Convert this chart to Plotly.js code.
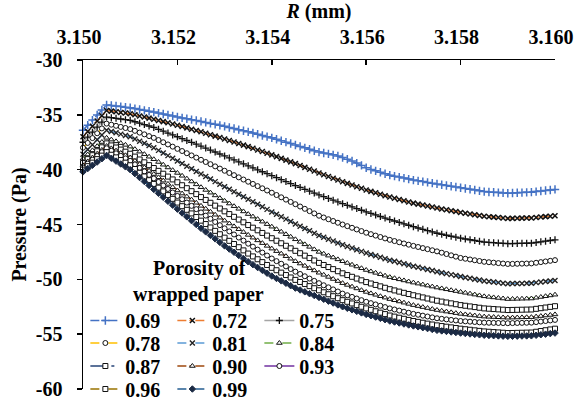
<!DOCTYPE html>
<html><head><meta charset="utf-8">
<script src="https://cdn.plot.ly/plotly-3.0.1.min.js"></script>
<style>html,body{margin:0;padding:0;background:#fff}#chart{width:576px;height:401px}</style>
</head><body><div id="chart"></div>
<script>
const R = [3.1500,3.1501,3.1502,3.1503,3.1504,3.1505,3.1506,3.1507,3.1508,3.1509,
3.1510,3.1511,3.1512,3.1513,3.1514,3.1515,3.1516,3.1517,3.1518,3.1519,
3.1520,3.1521,3.1522,3.1523,3.1524,3.1525,3.1526,3.1527,3.1528,3.1529,
3.1530,3.1531,3.1532,3.1533,3.1534,3.1535,3.1536,3.1537,3.1538,3.1539,
3.1540,3.1541,3.1542,3.1543,3.1544,3.1545,3.1546,3.1547,3.1548,3.1549,
3.1550,3.1551,3.1552,3.1553,3.1554,3.1555,3.1556,3.1557,3.1558,3.1559,
3.1560,3.1561,3.1562,3.1563,3.1564,3.1565,3.1566,3.1567,3.1568,3.1569,
3.1570,3.1571,3.1572,3.1573,3.1574,3.1575,3.1576,3.1577,3.1578,3.1579,
3.1580,3.1581,3.1582,3.1583,3.1584,3.1585,3.1586,3.1587,3.1588,3.1589,
3.1590,3.1591,3.1592,3.1593,3.1594,3.1595,3.1596,3.1597,3.1598,3.1599,
3.1600];

const p069 = [-36.4,-35.94,-35.48,-35.02,-34.56,-34.1,
-34.15,-34.2,-34.25,-34.3,-34.35,
-34.43,-34.51,-34.59,-34.67,-34.75,
-34.84,-34.93,-35.02,-35.11,-35.2,
-35.28,-35.36,-35.44,-35.52,-35.6,
-35.69,-35.78,-35.87,-35.96,-36.05,
-36.15,-36.25,-36.35,-36.45,-36.55,
-36.66,-36.77,-36.88,-36.99,-37.1,
-37.23,-37.36,-37.49,-37.62,-37.75,
-37.88,-38.01,-38.14,-38.27,-38.4,
-38.48,-38.56,-38.65,-38.76,-38.89,
-39.04,-39.21,-39.4,-39.61,-39.83,
-39.98,-40.11,-40.24,-40.37,-40.5,
-40.59,-40.68,-40.77,-40.86,-40.95,
-41.02,-41.09,-41.16,-41.23,-41.3,
-41.37,-41.44,-41.51,-41.58,-41.65,
-41.72,-41.79,-41.86,-41.93,-42.0,
-42.03,-42.06,-42.09,-42.12,-42.15,
-42.13,-42.11,-42.09,-42.07,-42.05,
-42.0,-41.95,-41.9,-41.85,-41.8];

const p072 = [-37.0,-36.52,-36.04,-35.56,-35.08,-34.6,
-34.66,-34.72,-34.78,-34.84,-34.9,
-35.0,-35.1,-35.2,-35.3,-35.4,
-35.51,-35.62,-35.73,-35.84,-35.95,
-36.07,-36.19,-36.31,-36.43,-36.55,
-36.68,-36.81,-36.94,-37.07,-37.2,
-37.34,-37.48,-37.62,-37.76,-37.9,
-38.05,-38.2,-38.35,-38.5,-38.65,
-38.81,-38.97,-39.13,-39.29,-39.45,
-39.62,-39.79,-39.96,-40.13,-40.3,
-40.46,-40.62,-40.78,-40.94,-41.1,
-41.25,-41.4,-41.55,-41.7,-41.85,
-41.98,-42.11,-42.24,-42.37,-42.5,
-42.61,-42.72,-42.83,-42.94,-43.05,
-43.14,-43.23,-43.32,-43.41,-43.5,
-43.58,-43.66,-43.74,-43.82,-43.9,
-43.97,-44.04,-44.11,-44.18,-44.25,
-44.29,-44.33,-44.37,-44.41,-44.45,
-44.44,-44.43,-44.42,-44.41,-44.4,
-44.36,-44.32,-44.28,-44.24,-44.2];

const p075 = [-37.5,-37.04,-36.58,-36.12,-35.66,-35.2,
-35.26,-35.32,-35.38,-35.44,-35.5,
-35.63,-35.76,-35.89,-36.02,-36.15,
-36.32,-36.49,-36.66,-36.83,-37.0,
-37.17,-37.34,-37.51,-37.68,-37.85,
-38.03,-38.21,-38.39,-38.57,-38.75,
-38.93,-39.11,-39.29,-39.47,-39.65,
-39.83,-40.01,-40.19,-40.37,-40.55,
-40.73,-40.91,-41.09,-41.27,-41.45,
-41.62,-41.79,-41.96,-42.13,-42.3,
-42.46,-42.62,-42.78,-42.94,-43.1,
-43.25,-43.4,-43.55,-43.7,-43.85,
-43.99,-44.13,-44.27,-44.41,-44.55,
-44.68,-44.81,-44.94,-45.07,-45.2,
-45.32,-45.44,-45.56,-45.68,-45.8,
-45.89,-45.98,-46.07,-46.16,-46.25,
-46.32,-46.39,-46.46,-46.53,-46.6,
-46.63,-46.66,-46.69,-46.72,-46.75,
-46.74,-46.73,-46.72,-46.71,-46.7,
-46.64,-46.58,-46.52,-46.46,-46.4];

const p078 = [-38.0,-37.56,-37.12,-36.68,-36.24,-35.8,
-35.9,-36.0,-36.1,-36.2,-36.3,
-36.46,-36.62,-36.78,-36.94,-37.1,
-37.3,-37.5,-37.7,-37.9,-38.1,
-38.3,-38.5,-38.7,-38.9,-39.1,
-39.3,-39.5,-39.7,-39.9,-40.1,
-40.3,-40.5,-40.7,-40.9,-41.1,
-41.3,-41.5,-41.7,-41.9,-42.1,
-42.31,-42.52,-42.73,-42.94,-43.15,
-43.36,-43.57,-43.78,-43.99,-44.2,
-44.36,-44.52,-44.68,-44.84,-45.0,
-45.15,-45.3,-45.45,-45.6,-45.75,
-45.88,-46.01,-46.14,-46.27,-46.4,
-46.51,-46.62,-46.73,-46.84,-46.95,
-47.05,-47.15,-47.25,-47.35,-47.45,
-47.57,-47.69,-47.81,-47.93,-48.05,
-48.12,-48.19,-48.26,-48.33,-48.4,
-48.44,-48.48,-48.52,-48.56,-48.6,
-48.59,-48.58,-48.57,-48.56,-48.55,
-48.49,-48.43,-48.37,-48.31,-48.25];

const p081 = [-38.6,-38.16,-37.72,-37.28,-36.84,-36.4,
-36.52,-36.64,-36.76,-36.88,-37.0,
-37.2,-37.4,-37.6,-37.8,-38.0,
-38.24,-38.48,-38.72,-38.96,-39.2,
-39.44,-39.68,-39.92,-40.16,-40.4,
-40.63,-40.86,-41.09,-41.32,-41.55,
-41.78,-42.01,-42.24,-42.47,-42.7,
-42.93,-43.16,-43.39,-43.62,-43.85,
-44.07,-44.29,-44.51,-44.73,-44.95,
-45.16,-45.37,-45.58,-45.79,-46.0,
-46.17,-46.34,-46.51,-46.68,-46.85,
-47.0,-47.15,-47.3,-47.45,-47.6,
-47.73,-47.86,-47.99,-48.12,-48.25,
-48.36,-48.47,-48.58,-48.69,-48.8,
-48.9,-49.0,-49.1,-49.2,-49.3,
-49.39,-49.48,-49.57,-49.66,-49.75,
-49.83,-49.91,-49.99,-50.07,-50.15,
-50.2,-50.25,-50.3,-50.35,-50.4,
-50.39,-50.38,-50.37,-50.36,-50.35,
-50.3,-50.25,-50.2,-50.15,-50.1];

const p084 = [-39.0,-38.62,-38.24,-37.86,-37.48,-37.1,
-37.26,-37.42,-37.58,-37.74,-37.9,
-38.13,-38.36,-38.59,-38.82,-39.05,
-39.3,-39.55,-39.8,-40.05,-40.3,
-40.56,-40.82,-41.08,-41.34,-41.6,
-41.85,-42.1,-42.35,-42.6,-42.85,
-43.09,-43.33,-43.57,-43.81,-44.05,
-44.28,-44.51,-44.74,-44.97,-45.2,
-45.43,-45.66,-45.89,-46.12,-46.35,
-46.58,-46.81,-47.04,-47.27,-47.5,
-47.67,-47.84,-48.01,-48.18,-48.35,
-48.51,-48.67,-48.83,-48.99,-49.15,
-49.28,-49.41,-49.54,-49.67,-49.8,
-49.9,-50.0,-50.1,-50.2,-50.3,
-50.39,-50.48,-50.57,-50.66,-50.75,
-50.83,-50.91,-50.99,-51.07,-51.15,
-51.23,-51.31,-51.39,-51.47,-51.55,
-51.6,-51.65,-51.7,-51.75,-51.8,
-51.79,-51.78,-51.77,-51.76,-51.75,
-51.68,-51.61,-51.54,-51.47,-51.4];

const p087 = [-39.4,-39.04,-38.68,-38.32,-37.96,-37.6,
-37.79,-37.98,-38.17,-38.36,-38.55,
-38.81,-39.07,-39.33,-39.59,-39.85,
-40.11,-40.37,-40.63,-40.89,-41.15,
-41.42,-41.69,-41.96,-42.23,-42.5,
-42.76,-43.02,-43.28,-43.54,-43.8,
-44.05,-44.3,-44.55,-44.8,-45.05,
-45.29,-45.53,-45.77,-46.01,-46.25,
-46.48,-46.71,-46.94,-47.17,-47.4,
-47.62,-47.84,-48.06,-48.28,-48.5,
-48.69,-48.88,-49.07,-49.26,-49.45,
-49.61,-49.77,-49.93,-50.09,-50.25,
-50.38,-50.51,-50.64,-50.77,-50.9,
-51.01,-51.12,-51.23,-51.34,-51.45,
-51.55,-51.65,-51.75,-51.85,-51.95,
-52.03,-52.11,-52.19,-52.27,-52.35,
-52.41,-52.47,-52.53,-52.59,-52.65,
-52.68,-52.71,-52.74,-52.77,-52.8,
-52.79,-52.78,-52.77,-52.76,-52.75,
-52.69,-52.63,-52.57,-52.51,-52.45];

const p090 = [-39.6,-39.25,-38.9,-38.55,-38.2,-37.85,
-38.06,-38.27,-38.48,-38.69,-38.9,
-39.2,-39.5,-39.8,-40.1,-40.4,
-40.7,-41.0,-41.3,-41.6,-41.9,
-42.18,-42.46,-42.74,-43.02,-43.3,
-43.57,-43.84,-44.11,-44.38,-44.65,
-44.91,-45.17,-45.43,-45.69,-45.95,
-46.2,-46.45,-46.7,-46.95,-47.2,
-47.43,-47.66,-47.89,-48.12,-48.35,
-48.56,-48.77,-48.98,-49.19,-49.4,
-49.59,-49.78,-49.97,-50.16,-50.35,
-50.51,-50.67,-50.83,-50.99,-51.15,
-51.28,-51.41,-51.54,-51.67,-51.8,
-51.91,-52.02,-52.13,-52.24,-52.35,
-52.44,-52.53,-52.62,-52.71,-52.8,
-52.87,-52.94,-53.01,-53.08,-53.15,
-53.2,-53.25,-53.3,-53.35,-53.4,
-53.42,-53.44,-53.46,-53.48,-53.5,
-53.49,-53.48,-53.47,-53.46,-53.45,
-53.4,-53.35,-53.3,-53.25,-53.2];

const p093 = [-39.8,-39.45,-39.1,-38.75,-38.4,-38.05,
-38.28,-38.51,-38.74,-38.97,-39.2,
-39.52,-39.84,-40.16,-40.48,-40.8,
-41.12,-41.44,-41.76,-42.08,-42.4,
-42.7,-43.0,-43.3,-43.6,-43.9,
-44.19,-44.48,-44.77,-45.06,-45.35,
-45.63,-45.91,-46.19,-46.47,-46.75,
-47.02,-47.29,-47.56,-47.83,-48.1,
-48.34,-48.58,-48.82,-49.06,-49.3,
-49.51,-49.72,-49.93,-50.14,-50.35,
-50.54,-50.73,-50.92,-51.11,-51.3,
-51.45,-51.6,-51.75,-51.9,-52.05,
-52.17,-52.29,-52.41,-52.53,-52.65,
-52.75,-52.85,-52.95,-53.05,-53.15,
-53.23,-53.31,-53.39,-53.47,-53.55,
-53.6,-53.65,-53.7,-53.75,-53.8,
-53.83,-53.86,-53.89,-53.92,-53.95,
-53.96,-53.97,-53.98,-53.99,-54.0,
-53.99,-53.98,-53.97,-53.96,-53.95,
-53.9,-53.85,-53.8,-53.75,-53.7];

const p096 = [-40.0,-39.68,-39.36,-39.04,-38.72,-38.4,
-38.64,-38.88,-39.12,-39.36,-39.6,
-39.94,-40.28,-40.62,-40.96,-41.3,
-41.64,-41.98,-42.32,-42.66,-43.0,
-43.33,-43.66,-43.99,-44.32,-44.65,
-44.96,-45.27,-45.58,-45.89,-46.2,
-46.49,-46.78,-47.07,-47.36,-47.65,
-47.91,-48.17,-48.43,-48.69,-48.95,
-49.17,-49.39,-49.61,-49.83,-50.05,
-50.24,-50.43,-50.62,-50.81,-51.0,
-51.18,-51.36,-51.54,-51.72,-51.9,
-52.05,-52.2,-52.35,-52.5,-52.65,
-52.78,-52.91,-53.04,-53.17,-53.3,
-53.4,-53.5,-53.6,-53.7,-53.8,
-53.88,-53.96,-54.04,-54.12,-54.2,
-54.26,-54.32,-54.38,-54.44,-54.5,
-54.55,-54.6,-54.65,-54.7,-54.75,
-54.78,-54.81,-54.84,-54.87,-54.9,
-54.89,-54.88,-54.87,-54.86,-54.85,
-54.78,-54.71,-54.64,-54.57,-54.5];

const p099 = [-40.2,-39.9,-39.6,-39.3,-39.0,-38.7,
-38.96,-39.22,-39.48,-39.74,-40.0,
-40.36,-40.72,-41.08,-41.44,-41.8,
-42.16,-42.52,-42.88,-43.24,-43.6,
-43.95,-44.3,-44.65,-45.0,-45.35,
-45.67,-45.99,-46.31,-46.63,-46.95,
-47.24,-47.53,-47.82,-48.11,-48.4,
-48.66,-48.92,-49.18,-49.44,-49.7,
-49.92,-50.14,-50.36,-50.58,-50.8,
-50.97,-51.14,-51.31,-51.48,-51.65,
-51.82,-51.99,-52.16,-52.33,-52.5,
-52.64,-52.78,-52.92,-53.06,-53.2,
-53.32,-53.44,-53.56,-53.68,-53.8,
-53.89,-53.98,-54.07,-54.16,-54.25,
-54.33,-54.41,-54.49,-54.57,-54.65,
-54.7,-54.75,-54.8,-54.85,-54.9,
-54.94,-54.98,-55.02,-55.06,-55.1,
-55.12,-55.14,-55.16,-55.18,-55.2,
-55.19,-55.18,-55.17,-55.16,-55.15,
-55.1,-55.05,-55.0,-54.95,-54.9];

const seriesNames = ['0.69','0.72','0.75','0.78','0.81','0.84','0.87','0.90','0.93','0.96','0.99'];
const seriesValues = [p069,p072,p075,p078,p081,p084,p087,p090,p093,p096,p099];
const xTickVals = [3.150,3.152,3.154,3.156,3.158,3.160];
const xTickText = ['3.150','3.152','3.154','3.156','3.158','3.160'];
const yTickVals = [-60,-55,-50,-45,-40,-35,-30];
const yTickText = ['-60','-55','-50','-45','-40','-35','-30'];

// styles
const lineColors = ['#4472C4','#ED7D31','#A5A5A5','#FFC000','#5B9BD5','#70AD47','#264478','#9E480E','#7030A0','#997300','#255E91'];
const lineDash = ['dashdot','dashdot','solid','dash','dash','dash','longdashdot','dashdot','solid','dash','dash'];
const mSymbol = ['cross-thin','x-thin','cross-thin','circle','x-thin','triangle-up','square','triangle-up','circle','square','diamond'];
const mFill = ['#4472C4','#000','#000','#fff','#000','#fff','#fff','#fff','#fff','#fff','#1b2a44'];
const mLine = ['#4472C4','#111','#111','#111','#222','#111','#111','#111','#111','#111','#1b2a44'];
const mSize = [6,5,5,5,5,5,5,5,5,5,5];
const mLineW = [1.5,1.5,1.3,1,1.4,1,1,1,1,1,1];
const legendOf = ['legend','legend','legend','legend2','legend2','legend2','legend3','legend3','legend3','legend4','legend4'];

const FONT = 'Liberation Serif';
const boldFont = {family:FONT, size:20, color:'#000', weight:'bold'};

const traces = seriesNames.map((n,i)=>({
  type:'scatter', mode:'lines+markers', name:n, x:R, y:seriesValues[i],
  legend: legendOf[i], cliponaxis:false,
  line:{color:lineColors[i], width:1.5, dash:lineDash[i]},
  marker:{symbol:mSymbol[i], size:mSize[i], color:mFill[i], line:{color:mLine[i], width:mLineW[i]}}
}));

function yPaper(px){ return (389 - px)/329; }
const legBase = {orientation:'h', xanchor:'left', x:0.005, bgcolor:'rgba(0,0,0,0)', borderwidth:0,
  font:boldFont, entrywidth:42, entrywidthmode:'pixels', tracegroupgap:0, itemclick:false};
const NB = '\u00a0';

const layout = {
  width:576, height:401,
  margin:{l:83, r:21, t:60, b:12, autoexpand:false},
  paper_bgcolor:'#fff', plot_bgcolor:'#fff',
  font:boldFont,
  showlegend:true,
  xaxis:{side:'top', range:[3.150,3.160], tickvals:xTickVals, ticktext:xTickText,
    ticks:'inside', ticklen:5, tickwidth:1.5, tickcolor:'#000',
    showline:true, linecolor:'#000', linewidth:1.5, showgrid:false, zeroline:false,
    tickfont:boldFont, ticklabelshift:-4, ticklabelstandoff:7,
    title:{text:'<i>R</i> (mm)', font:boldFont, standoff:4}},
  yaxis:{range:[-60,-30], tickvals:yTickVals, ticktext:yTickText,
    ticks:'outside', ticklen:5, tickwidth:1.5, tickcolor:'#000',
    showline:true, linecolor:'#000', linewidth:1.5, showgrid:false, zeroline:false,
    tickfont:boldFont, ticklabelstandoff:10,
    title:{text:'Pressure (Pa)', font:boldFont, standoff:4}},
  legend:Object.assign({}, legBase, {yanchor:'bottom', y:yPaper(340),
    title:{text:NB.repeat(4)+'Porosity of<br>wrapped paper'+NB.repeat(7), side:'top center', font:boldFont}}),
  legend2:Object.assign({}, legBase, {yanchor:'middle', y:yPaper(343)}),
  legend3:Object.assign({}, legBase, {yanchor:'middle', y:yPaper(366)}),
  legend4:Object.assign({}, legBase, {yanchor:'middle', y:yPaper(389)})
};

Plotly.newPlot('chart', traces, layout, {displayModeBar:false, staticPlot:true});
</script></body></html>
